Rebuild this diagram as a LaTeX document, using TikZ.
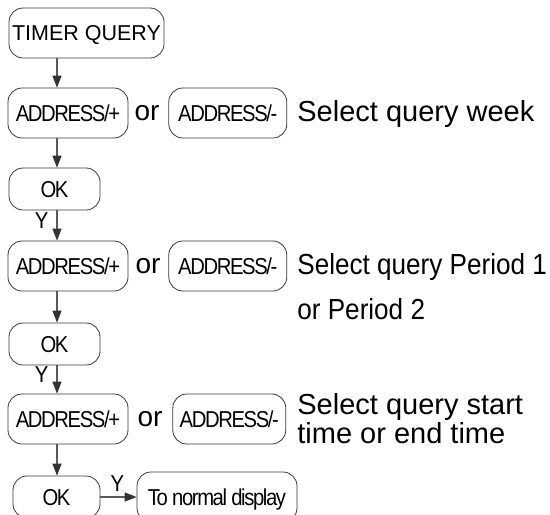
\documentclass[tikz,border=0pt]{standalone}
\usepackage{fontspec}
\setmainfont{Liberation Sans}
\newfontfamily\narrowfont[FakeStretch=0.88,LetterSpace=-6]{Liberation Sans}
\newfontfamily\notenarrow[FakeStretch=0.9]{Liberation Sans}
\usetikzlibrary{positioning,arrows.meta}
\definecolor{boxline}{HTML}{3A3A3A}
\definecolor{arrline}{HTML}{5A5A5A}
\definecolor{arrhead}{HTML}{333333}

\begin{document}
\begin{tikzpicture}[
  x=1pt, y=-1pt,
  >={Triangle[length=12pt,width=9pt,color=arrhead]},
  key/.style={draw=boxline, line width=0.8pt, rounded corners=14pt, minimum height=50pt,
              inner sep=0pt, text height=16pt, text depth=0pt,
              font=\narrowfont\fontsize{23}{25}\selectfont},
  okkey/.style={key, minimum width=91pt, minimum height=42pt},
  startkey/.style={key, minimum width=155pt, text height=15pt,
                   font=\fontsize{21.5}{23}\selectfont},
  orword/.style={inner sep=0pt, font=\fontsize{28}{30}\selectfont},
  note/.style={inner sep=0pt, align=left, font=\fontsize{29}{29}\selectfont},
  narrownote/.style={note, font=\notenarrow\fontsize{29}{29}\selectfont},
  ylab/.style={inner sep=0pt, font=\narrowfont\fontsize{23}{25}\selectfont},
  arr/.style={->, line width=1.3pt, draw=arrline},
]
\useasboundingbox (0,0) rectangle (550,515);

\coordinate (col) at (57,0);

\node[startkey] (tq) at (86.5,33) {TIMER QUERY};

% week
\node[key, minimum width=120pt] (a1p) at (68,113) {ADDRESS/+};
\node[orword, right=6pt of a1p] (or1) {or};
\node[key, minimum width=118pt, right=40pt of a1p] (a1m) {ADDRESS/-};
\node[note, right=10pt of a1m.base east, anchor=base west] (n1) {Select query week};
\node[okkey] (ok1) at (54.5,189) {OK};

% period
\node[key, minimum width=120pt] (a2p) at (68,266) {ADDRESS/+};
\node[orword, right=7pt of a2p] (or2) {or};
\node[key, minimum width=118pt, right=40pt of a2p] (a2m) {ADDRESS/-};
\node[narrownote, right=10pt of a2m.base east, anchor=base west] (n2a) {Select query Period 1};
\node[narrownote, below=45pt of n2a.base west, anchor=base west] (n2b) {or Period 2};
\node[okkey] (ok2) at (54.5,344) {OK};

% start / end time
\node[key, minimum width=120pt] (a3p) at (68,419) {ADDRESS/+};
\node[orword, right=9pt of a3p] (or3) {or};
\node[key, minimum width=113pt, right=44pt of a3p] (a3m) {ADDRESS/-};
\node[note, right=11pt of a3m] (n3) {Select query start\\time or end time};
\node[okkey, minimum width=87pt] (ok3) at (56.5,497) {OK};
\node[key, minimum width=160pt] (tnd) at (217,497) {To normal display};

\draw[arr] (tq.south -| col) -- (a1p.north -| col);
\draw[arr] (a1p.south -| col) -- (ok1.north -| col);
\draw[arr] (ok1.south -| col) -- node[ylab, left=8pt, pos=0.34] (y1) {Y} (a2p.north -| col);
\draw[arr] (a2p.south -| col) -- (ok2.north -| col);
\draw[arr] (ok2.south -| col) -- node[ylab, left=8pt, pos=0.34] (y2) {Y} (a3p.north -| col);
\draw[arr] (a3p.south -| col) -- (ok3.north -| col);
\draw[arr] (ok3) -- node[ylab, above=5pt, pos=0.47] (y3) {Y} (tnd);
\end{tikzpicture}
\end{document}
